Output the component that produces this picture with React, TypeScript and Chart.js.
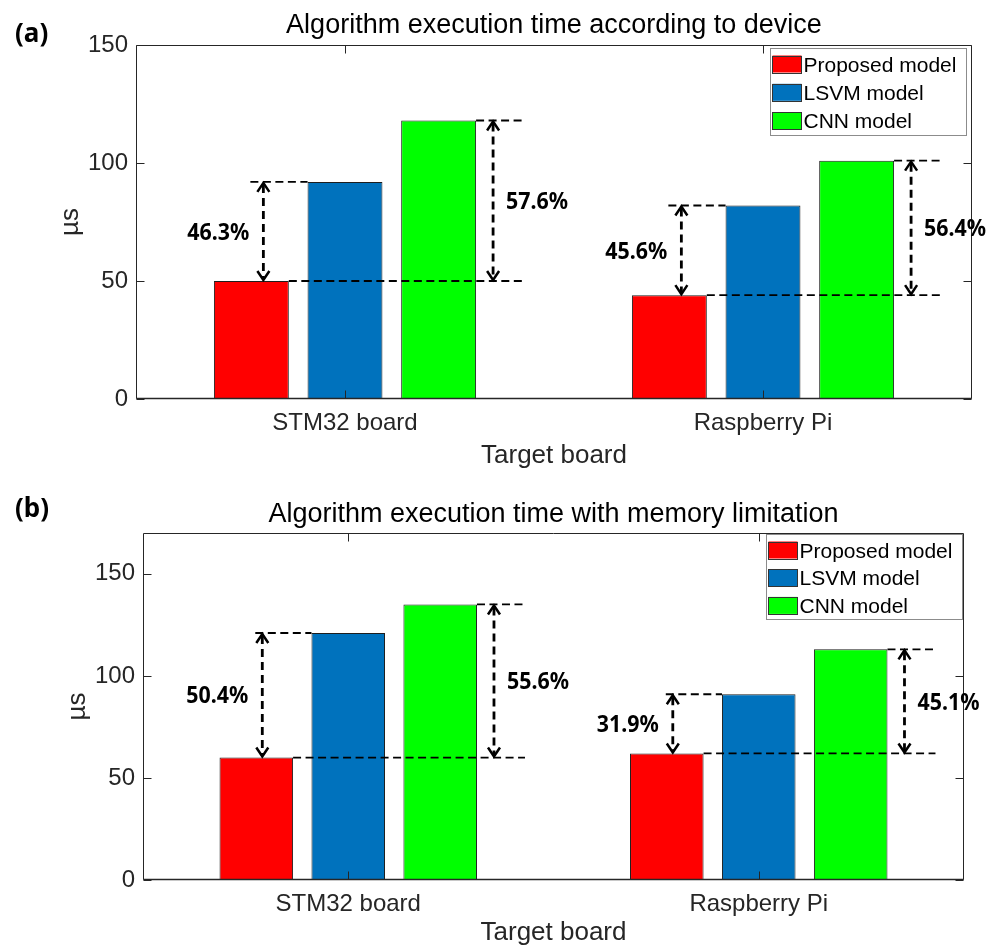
import React, { useEffect, useRef } from 'react';
import { Chart, registerables } from 'chart.js';

Chart.register(...registerables);

// ---------- data ----------
const categories = ['STM32 board', 'Raspberry Pi'];
const seriesNames = ['Proposed model', 'LSVM model', 'CNN model'];
const seriesColors = ['#FF0000', '#0072BD', '#00FF00'];

// (a) execution time according to device (µs)
const proposedA = [50, 44];
const lsvmA = [92, 82];
const cnnA = [118, 101];
const reductionLsvmA = ['46.3%', '45.6%'];
const reductionCnnA = ['57.6%', '56.4%'];
const yTicksA = [0, 50, 100, 150];

// (b) execution time with memory limitation (µs)
const proposedB = [60, 62];
const lsvmB = [121, 91];
const cnnB = [135, 113];
const reductionLsvmB = ['50.4%', '31.9%'];
const reductionCnnB = ['55.6%', '45.1%'];
const yTicksB = [0, 50, 100, 150];

const SANS = '"Liberation Sans", Arial, Helvetica, sans-serif';
const BOLD = '"Noto Sans", "Open Sans", sans-serif';
const AXIS = '#262626';

type Panel = {
  tag: string;
  title: string;
  proposed: number[];
  lsvm: number[];
  cnn: number[];
  lsvmPct: string[];
  cnnPct: string[];
  yMax: number;
  yTicks: number[];
  canvasTop: number;
  canvasHeight: number;
  areaLeft: number;
  areaRight: number;
  areaTop: number;
  areaBottom: number;
  yTitlePad: number;
  xTitlePad: number;
  titleBaseline: number;
  tagBaseline: number;
  legendRightGap: number;
  legendTopGap: number;
  legendRowGap: number;
  arrowShift: number;
};

const panels: Panel[] = [
  {
    tag: '(a)',
    title: 'Algorithm execution time according to device',
    proposed: proposedA,
    lsvm: lsvmA,
    cnn: cnnA,
    lsvmPct: reductionLsvmA,
    cnnPct: reductionCnnA,
    yMax: 150,
    yTicks: yTicksA,
    canvasTop: 0,
    canvasHeight: 474,
    areaLeft: 136,
    areaRight: 972,
    areaTop: 45,
    areaBottom: 399,
    yTitlePad: 58,
    xTitlePad: 5,
    titleBaseline: 33,
    tagBaseline: 41.5,
    legendRightGap: 6,
    legendTopGap: 3,
    legendRowGap: 28.3,
    arrowShift: 12,
  },
  {
    tag: '(b)',
    title: 'Algorithm execution time with memory limitation',
    proposed: proposedB,
    lsvm: lsvmB,
    cnn: cnnB,
    lsvmPct: reductionLsvmB,
    cnnPct: reductionCnnB,
    yMax: 170,
    yTicks: yTicksB,
    canvasTop: 474,
    canvasHeight: 474,
    areaLeft: 143,
    areaRight: 964,
    areaTop: 59,
    areaBottom: 406,
    yTitlePad: 65,
    xTitlePad: 2,
    titleBaseline: 47.7,
    tagBaseline: 42.5,
    legendRightGap: 2,
    legendTopGap: 1,
    legendRowGap: 27.7,
    arrowShift: 6,
  },
];

// ---------- drawing helpers ----------
function hDash(ctx: CanvasRenderingContext2D, x1: number, x2: number, y: number) {
  ctx.save();
  ctx.strokeStyle = '#000';
  ctx.lineWidth = 1.8;
  ctx.setLineDash([8, 4.5]);
  ctx.beginPath();
  ctx.moveTo(x1, y);
  ctx.lineTo(x2, y);
  ctx.stroke();
  ctx.restore();
}

function dblArrow(ctx: CanvasRenderingContext2D, x: number, yTop: number, yBot: number) {
  ctx.save();
  ctx.strokeStyle = '#000';
  ctx.lineWidth = 2.8;
  ctx.setLineDash([8, 5]);
  ctx.beginPath();
  ctx.moveTo(x, yTop + 3);
  ctx.lineTo(x, yBot - 3);
  ctx.stroke();
  ctx.setLineDash([]);
  ctx.lineWidth = 2.5;
  ctx.lineJoin = 'miter';
  ctx.beginPath();
  ctx.moveTo(x - 6, yTop + 10);
  ctx.lineTo(x, yTop + 1);
  ctx.lineTo(x + 6, yTop + 10);
  ctx.moveTo(x - 6, yBot - 10);
  ctx.lineTo(x, yBot - 1);
  ctx.lineTo(x + 6, yBot - 10);
  ctx.stroke();
  ctx.restore();
}

function pctLabel(ctx: CanvasRenderingContext2D, text: string, x: number, yMid: number, align: CanvasTextAlign) {
  ctx.save();
  ctx.translate(x, yMid + 8.2);
  ctx.scale(0.93, 1);
  ctx.font = `bold 23px ${BOLD}`;
  ctx.fillStyle = '#000';
  ctx.textAlign = align;
  ctx.textBaseline = 'alphabetic';
  ctx.fillText(text, 0, 0);
  ctx.restore();
}

function decorPlugin(p: Panel) {
  return {
    id: 'decor',
    afterDatasetsDraw(chart: any) {
      const ctx: CanvasRenderingContext2D = chart.ctx;
      const { left, right, top, bottom } = chart.chartArea;
      const xs = chart.scales.x;
      const ys = chart.scales.y;
      const m0 = chart.getDatasetMeta(0);
      const m1 = chart.getDatasetMeta(1);
      const m2 = chart.getDatasetMeta(2);

      // ---- axes box + inward ticks (MATLAB style) ----
      ctx.save();
      ctx.strokeStyle = AXIS;
      ctx.lineWidth = 1;
      const L = Math.round(left) + 0.5;
      const R = Math.round(right) - 0.5;
      const T = Math.round(top) + 0.5;
      const B = Math.round(bottom) - 0.5;
      ctx.beginPath();
      ctx.rect(L, T, R - L, B - T);
      const tl = 8;
      for (let j = 0; j < categories.length; j++) {
        const px = Math.round(xs.getPixelForValue(j)) + 0.5;
        ctx.moveTo(px, B);
        ctx.lineTo(px, B - tl);
        ctx.moveTo(px, T);
        ctx.lineTo(px, T + tl);
      }
      for (const v of p.yTicks) {
        const py = Math.round(ys.getPixelForValue(v)) + 0.5;
        ctx.moveTo(L, py);
        ctx.lineTo(L + tl, py);
        ctx.moveTo(R, py);
        ctx.lineTo(R - tl, py);
      }
      ctx.stroke();
      // slightly heavier baseline, as in the reference
      ctx.lineWidth = 1.6;
      ctx.beginPath();
      ctx.moveTo(L, B);
      ctx.lineTo(R, B);
      ctx.stroke();
      ctx.restore();

      // ---- reduction annotations ----
      for (let j = 0; j < categories.length; j++) {
        const r = m0.data[j].getProps(['x', 'width'], true);
        const b = m1.data[j].getProps(['x', 'width'], true);
        const g = m2.data[j].getProps(['x', 'width'], true);
        const yR = ys.getPixelForValue(p.proposed[j]);
        const yB = ys.getPixelForValue(p.lsvm[j]);
        const yG = ys.getPixelForValue(p.cnn[j]);
        const rRight = r.x + r.width / 2;
        const bLeft = b.x - b.width / 2;
        const gRight = g.x + g.width / 2;
        const a1 = r.x + p.arrowShift;
        const a2 = gRight + 17;
        const ext = gRight + 48;
        hDash(ctx, r.x - 1, bLeft, yB);
        hDash(ctx, rRight, ext, yR);
        hDash(ctx, gRight, ext, yG);
        dblArrow(ctx, a1, yB, yR);
        dblArrow(ctx, a2, yG, yR);
        pctLabel(ctx, p.lsvmPct[j], a1 - 14, (yB + yR) / 2, 'right');
        pctLabel(ctx, p.cnnPct[j], a2 + 13, (yG + yR) / 2, 'left');
      }

      // ---- legend ----
      ctx.save();
      ctx.font = `21px ${SANS}`;
      const ds = chart.data.datasets;
      let tw = 0;
      for (const d of ds) tw = Math.max(tw, ctx.measureText(d.label).width);
      const w = Math.round(2 + 29 + 3 + tw + 9);
      const h = Math.round(p.legendRowGap * 2 + 30);
      const lx = Math.round(right - p.legendRightGap - w) + 0.5;
      const ly = Math.round(top + p.legendTopGap) + 0.5;
      ctx.fillStyle = '#fff';
      ctx.fillRect(lx, ly, w, h);
      ctx.strokeStyle = '#8c8c8c';
      ctx.lineWidth = 1;
      ctx.strokeRect(lx, ly, w, h);
      ds.forEach((d: any, i: number) => {
        const rowY = ly + 15.5 + p.legendRowGap * i;
        ctx.fillStyle = d.backgroundColor;
        ctx.fillRect(lx + 2, rowY - 8.5, 29, 17);
        ctx.strokeStyle = '#333';
        ctx.strokeRect(lx + 2, Math.round(rowY - 8.5) + 0.5, 29, 17);
        ctx.fillStyle = '#000';
        ctx.textAlign = 'left';
        ctx.textBaseline = 'alphabetic';
        ctx.fillText(d.label, lx + 33, rowY + 7.5);
      });
      ctx.restore();

      // ---- title and panel tag ----
      ctx.save();
      ctx.fillStyle = '#000';
      ctx.font = `27px ${SANS}`;
      ctx.textAlign = 'center';
      ctx.textBaseline = 'alphabetic';
      ctx.fillText(p.title, (left + right) / 2, p.titleBaseline);
      ctx.font = `bold 26px ${BOLD}`;
      ctx.textAlign = 'left';
      ctx.fillText(p.tag, 15, p.tagBaseline);
      ctx.restore();
    },
  };
}

function makeConfig(p: Panel): any {
  const values = [p.proposed, p.lsvm, p.cnn];
  return {
    type: 'bar',
    data: {
      labels: categories,
      datasets: seriesNames.map((name, i) => ({
        label: name,
        data: values[i],
        backgroundColor: seriesColors[i],
        borderColor: '#1e1e1e',
        borderWidth: 1,
        borderSkipped: false,
        barPercentage: 0.8,
        categoryPercentage: 0.672,
      })),
    },
    options: {
      responsive: false,
      animation: false,
      devicePixelRatio: 1,
      layout: {
        padding: { left: 0, right: 993 - p.areaRight, top: p.areaTop, bottom: 0 },
      },
      plugins: {
        legend: { display: false },
        tooltip: { enabled: false },
        title: { display: false },
      },
      scales: {
        x: {
          type: 'category',
          grid: { display: false, drawTicks: false },
          border: { display: false },
          ticks: {
            color: AXIS,
            font: { family: SANS, size: 24, lineHeight: 1 },
            padding: 12.5,
            maxRotation: 0,
            autoSkip: false,
          },
          title: {
            display: true,
            text: 'Target board',
            color: AXIS,
            font: { family: SANS, size: 26, lineHeight: 1 },
            padding: { top: 0, bottom: p.xTitlePad },
          },
          afterFit: (s: any) => {
            s.height = p.canvasHeight - p.areaBottom;
          },
        },
        y: {
          type: 'linear',
          min: 0,
          max: p.yMax,
          grid: { display: false, drawTicks: false },
          border: { display: false },
          ticks: {
            color: AXIS,
            font: { family: SANS, size: 24 },
            padding: 8,
            includeBounds: false,
          },
          afterBuildTicks: (s: any) => {
            s.ticks = p.yTicks.map((v) => ({ value: v }));
          },
          title: {
            display: true,
            text: 'µs',
            color: AXIS,
            font: { family: SANS, size: 26, lineHeight: 1 },
            padding: { top: p.yTitlePad, bottom: 0 },
          },
          afterFit: (s: any) => {
            s.width = p.areaLeft;
          },
        },
      },
    },
    plugins: [decorPlugin(p)],
  };
}

function PanelChart({ p }: { p: Panel }) {
  const ref = useRef<HTMLCanvasElement | null>(null);
  useEffect(() => {
    if (!ref.current) return;
    const chart = new Chart(ref.current, makeConfig(p));
    return () => chart.destroy();
  }, [p]);
  return (
    <canvas
      ref={ref}
      width={993}
      height={p.canvasHeight}
      style={{ position: 'absolute', left: 0, top: p.canvasTop, width: 993, height: p.canvasHeight, display: 'block' }}
    />
  );
}

export default function App() {
  return (
    <div style={{ position: 'absolute', left: 0, top: 0, width: 993, height: 948, background: '#fff', overflow: 'hidden' }}>
      {panels.map((p) => (
        <PanelChart key={p.tag} p={p} />
      ))}
    </div>
  );
}
